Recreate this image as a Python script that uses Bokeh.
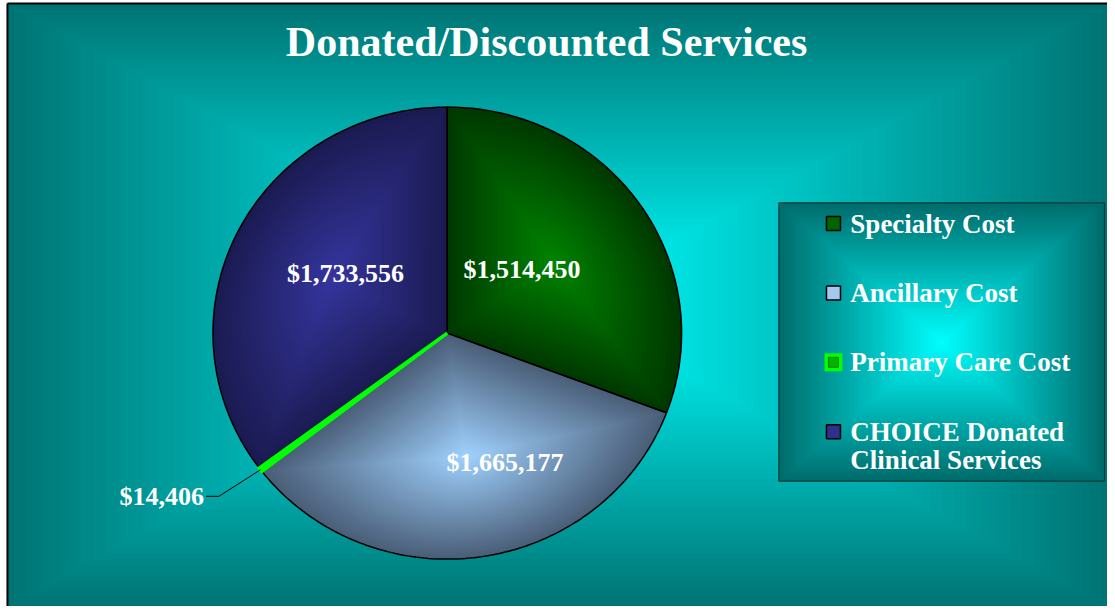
import numpy as np
from bokeh.plotting import figure
from bokeh.models import Range1d
from bokeh.core.properties import value
from bokeh.embed import file_html
from bokeh.resources import INLINE

# ---------------- data ----------------
title = "Donated/Discounted Services"
categories = ["Specialty Cost", "Ancillary Cost", "Primary Care Cost",
              "CHOICE Donated Clinical Services"]
legend_lines = [["Specialty Cost"], ["Ancillary Cost"], ["Primary Care Cost"],
                ["CHOICE Donated", "Clinical Services"]]
values = [1514450, 1665177, 14406, 1733556]
value_labels = ["$1,514,450", "$1,665,177", "$14,406", "$1,733,556"]
edge_colors = ["#003800", "#4a5e78", "#00ff00", "#1b1b52"]
center_colors = ["#008400", "#a0d2ff", "#00ff00", "#35359e"]
marker_colors = ["#006400", "#a6c8ee", "#00ff00", "#2f2f8c"]

FONT = value("Liberation Serif")

# ---------------- helpers ----------------
def hex2rgb(h):
    h = h.lstrip("#")
    return np.array([int(h[i:i + 2], 16) for i in (0, 2, 4)], dtype=float)

def lerp(c1, c2, t):
    a, b = hex2rgb(c1), hex2rgb(c2)
    c = a + (b - a) * t
    return "#%02x%02x%02x" % tuple(int(round(v)) for v in c)

def Y(ry):  # reference pixel row -> data y
    return 614 - ry

W, H = 1107, 606
p = figure(width=W, height=H, x_range=Range1d(0, 1115), y_range=Range1d(0, 614),
           output_backend="svg", toolbar_location=None, min_border=0)
p.axis.visible = False
p.grid.visible = False
p.outline_line_color = None
p.background_fill_color = "white"
p.border_fill_color = "white"

# ---------------- background rectangular gradient ----------------
bg_edge, bg_center = "#007474", "#00ffff"
bx0, bx1, by0, by1 = 7, 1115, Y(614), Y(3)
bcx, bcy = (bx0 + bx1) / 2, (by0 + by1) / 2
bhw, bhh = (bx1 - bx0) / 2, (by1 - by0) / 2
N = 90
ss = np.linspace(1, 1.0 / N, N)
p.quad(left=bcx - ss * bhw, right=bcx + ss * bhw, bottom=bcy - ss * bhh, top=bcy + ss * bhh,
       fill_color=[lerp(bg_center, bg_edge, s) for s in ss], line_color=None)

# frame lines (top & left)
p.segment(x0=[bx0, bx0], y0=[by1, by0], x1=[bx1, bx0], y1=[by1, by1],
          line_color="black", line_width=2)

# ---------------- pie ----------------
CX, CY, RX, RY = 450, Y(337), 236, 229
total = float(sum(values))
fr = np.array(values) / total
starts = np.concatenate([[0], np.cumsum(fr)[:-1]])
ends = np.cumsum(fr)

def theta(f):
    return np.pi / 2 - 2 * np.pi * f

slice_polys = []
for i in range(len(values)):
    npts = max(3, int(360 * fr[i]))
    ff = np.linspace(starts[i], ends[i], npts)
    xs = np.concatenate([[CX], CX + RX * np.cos(theta(ff))])
    ys = np.concatenate([[CY], CY + RY * np.sin(theta(ff))])
    slice_polys.append((xs, ys))

GN = 60
for i, (xs, ys) in enumerate(slice_polys):
    if fr[i] < 0.02:
        continue
    tm = theta((starts[i] + ends[i]) / 2)
    fx, fy = CX + 0.55 * RX * np.cos(tm), CY + 0.55 * RY * np.sin(tm)
    gs = np.linspace(1, 1.0 / GN, GN)
    p.patches(xs=[list(fx + s * (xs - fx)) for s in gs],
              ys=[list(fy + s * (ys - fy)) for s in gs],
              fill_color=[lerp(center_colors[i], edge_colors[i], s) for s in gs],
              line_color=None)

# outlines
p.patches(xs=[list(xs) for xs, ys in slice_polys], ys=[list(ys) for xs, ys in slice_polys],
          fill_alpha=0, line_color="black", line_width=1.5)

# thin slices drawn on top as a visible bright strip
for i, (xs, ys) in enumerate(slice_polys):
    if fr[i] < 0.02:
        p.patch(xs, ys, fill_color=center_colors[i], line_color=center_colors[i], line_width=3.5,
                line_join="miter")

# ---------------- value labels ----------------
label_f = [0.45, 0.55, 1.0, 0.5]
label_off = [(-12, 6), (39, -7), (0, 0), (3, 9)]
for i in range(len(values)):
    tm = theta((starts[i] + ends[i]) / 2)
    ex, ey = CX + label_f[i] * RX * np.cos(tm), CY + label_f[i] * RY * np.sin(tm)
    if fr[i] < 0.02:
        # leader line from slice edge to label
        kx, ky = ex - 42, ey - 27
        p.line([ex, kx, kx - 13], [ey, ky, ky], line_color="black", line_width=1)
        p.text(x=[kx - 15], y=[ky], text=[value_labels[i]], text_color="white",
               text_font=FONT, text_font_style="bold", text_font_size="26px",
               text_align="right", text_baseline="middle")
    else:
        ox, oy = label_off[i]
        p.text(x=[ex + ox], y=[ey + oy], text=[value_labels[i]], text_color="white",
               text_font=FONT, text_font_style="bold", text_font_size="26px",
               text_align="center", text_baseline="middle")

# ---------------- legend ----------------
lx0, lx1, ly0, ly1 = 784, 1112, Y(487), Y(205)
lcx, lcy = (lx0 + lx1) / 2, (ly0 + ly1) / 2
lhw, lhh = (lx1 - lx0) / 2, (ly1 - ly0) / 2
lg_edge, lg_center = "#006c6c", "#00ffff"
ls = np.linspace(1, 1.0 / 60, 60)
p.quad(left=lcx - ls * lhw, right=lcx + ls * lhw, bottom=lcy - ls * lhh, top=lcy + ls * lhh,
       fill_color=[lerp(lg_center, lg_edge, s) for s in ls], line_color=None)
p.quad(left=[lx0], right=[lx1], bottom=[ly0], top=[ly1], fill_alpha=0,
       line_color="#003c3c", line_width=1.2)

row0, row_gap, line_gap = Y(226), 70.3, 29
for i, lines in enumerate(legend_lines):
    yy = row0 - i * row_gap
    if fr[i] < 0.02:
        p.scatter([839], [yy], marker="square", size=18, fill_color="#00ff00", line_color=None)
        p.scatter([839], [yy], marker="square", size=10, fill_color="#00b400", line_color="#008000",
                  line_width=1)
    else:
        p.scatter([839], [yy], marker="square", size=14, fill_color=marker_colors[i],
                  line_color="black", line_width=1.5)
    p.text(x=[856] * len(lines), y=[yy - k * line_gap for k in range(len(lines))], text=lines,
           text_color="white", text_font=FONT, text_font_style="bold", text_font_size="27px",
           text_align="left", text_baseline="middle")

# ---------------- title ----------------
p.text(x=[550], y=[Y(42)], text=[title], text_color="white", text_font=FONT,
       text_font_style="bold", text_font_size="42px", text_align="center", text_baseline="middle")

open("out.html", "w").write(file_html(p, INLINE))
